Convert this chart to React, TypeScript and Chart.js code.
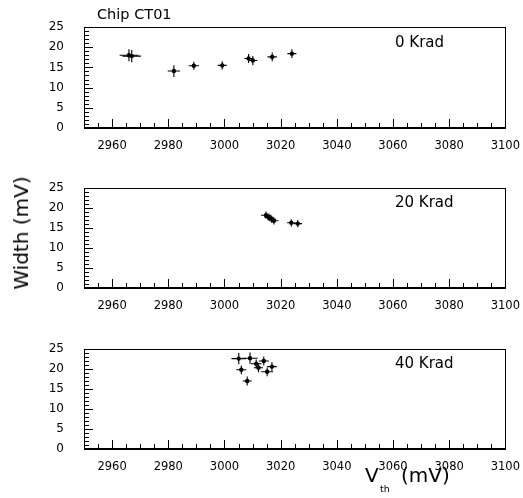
import { useEffect, useRef } from "react";
import { Chart, registerables } from "chart.js";

Chart.register(...registerables);

const FONT = "'DejaVu Sans', sans-serif";

// Axis ticks
const xTickValues = [2960, 2980, 3000, 3020, 3040, 3060, 3080, 3100];
const yTickValues = [0, 5, 10, 15, 20, 25];

// 0 Krad
const vth0 = [2966.0, 2967.0, 2982.0, 2989.1, 2999.2, 3008.6, 3010.1, 3017.0, 3024.0];
const width0 = [18.0, 17.8, 14.1, 15.4, 15.5, 17.2, 16.7, 17.6, 18.4];
const vthErr0 = [3.3, 3.3, 2.2, 1.8, 1.6, 1.5, 1.6, 1.65, 1.6];
const widthErr0 = [1.5, 1.5, 1.45, 1.0, 1.0, 1.1, 1.15, 1.1, 1.1];

// 20 Krad
const vth20 = [3014.8, 3015.8, 3016.8, 3017.6, 3023.8, 3026.1];
const width20 = [18.2, 17.7, 17.2, 16.8, 16.3, 16.1];
const vthErr20 = [1.8, 1.6, 1.6, 1.6, 1.5, 1.5];
const widthErr20 = [0.9, 0.9, 0.9, 0.9, 0.9, 0.9];

// 40 Krad
const vth40 = [3005.1, 3009.1, 3006.0, 3008.1, 3011.3, 3012.1, 3014.0, 3015.2, 3016.9];
const width40 = [22.6, 22.7, 19.8, 17.0, 21.3, 20.3, 22.0, 19.3, 20.6];
const vthErr40 = [2.6, 2.7, 1.8, 1.6, 1.9, 1.6, 1.8, 2.1, 1.7];
const widthErr40 = [1.4, 1.4, 1.1, 1.1, 1.1, 1.1, 1.1, 1.1, 1.1];

const panelLabels = ["0 Krad", "20 Krad", "40 Krad"];

type Pt = { x: number; y: number; xe: number; ye: number };

const makePoints = (xs: number[], ys: number[], xe: number[], ye: number[]): Pt[] =>
  xs.map((x, i) => ({ x, y: ys[i], xe: xe[i], ye: ye[i] }));

const panelData = [
  makePoints(vth0, width0, vthErr0, widthErr0),
  makePoints(vth20, width20, vthErr20, widthErr20),
  makePoints(vth40, width40, vthErr40, widthErr40),
];

const PAD_TOP = 27;
const layouts = [
  { canvasTop: 0, canvasH: 161, areaH: 101 },
  { canvasTop: 161, canvasH: 161, areaH: 100 },
  { canvasTop: 322, canvasH: 176, areaH: 100 },
];

function drawFrameAndTicks(chart: any) {
  const ctx = chart.ctx as CanvasRenderingContext2D;
  const area = chart.chartArea;
  const left = Math.round(area.left);
  const right = Math.round(area.right);
  const top = Math.round(area.top);
  const bottom = Math.round(area.bottom);
  const xs = chart.scales.x;
  const ys = chart.scales.y;
  ctx.save();
  ctx.fillStyle = "#000";
  // x ticks (inward, from the bottom axis)
  for (let v = 2950; v <= 3100; v += 5) {
    const px = Math.round(xs.getPixelForValue(v));
    const len = v % 20 === 0 ? 9 : 5;
    ctx.fillRect(px, bottom - len, 1, len);
  }
  // y ticks (inward, from the left axis)
  for (let v = 0; v <= 25; v += 1) {
    const py = Math.round(ys.getPixelForValue(v));
    const len = v % 5 === 0 ? 9 : 5;
    ctx.fillRect(left, py, len, 1);
  }
  // frame
  ctx.fillRect(left, top, right - left + 1, 1); // top
  ctx.fillRect(right, top, 1, bottom - top + 1); // right
  ctx.fillRect(left, top, 1, bottom - top + 1); // left
  ctx.fillRect(left, bottom - 1, right - left + 1, 2); // bottom (heavier)
  ctx.restore();
}

const framePlugin = {
  id: "rootFrame",
  beforeDatasetsDraw(chart: any) {
    const ctx = chart.ctx;
    const xs = chart.scales.x;
    const ys = chart.scales.y;
    const ds = chart.data.datasets[0];
    ctx.save();
    ctx.strokeStyle = "#000";
    ctx.lineWidth = 1.1;
    ds.data.forEach((p: Pt) => {
      const px = xs.getPixelForValue(p.x);
      const py = ys.getPixelForValue(p.y);
      const x1 = xs.getPixelForValue(p.x - p.xe);
      const x2 = xs.getPixelForValue(p.x + p.xe);
      const y1 = ys.getPixelForValue(p.y - p.ye);
      const y2 = ys.getPixelForValue(p.y + p.ye);
      ctx.beginPath();
      ctx.moveTo(x1, py);
      ctx.lineTo(x2, py);
      ctx.moveTo(px, y1);
      ctx.lineTo(px, y2);
      ctx.stroke();
    });
    ctx.restore();
  },
  afterDatasetsDraw(chart: any) {
    drawFrameAndTicks(chart);
  },
};

function Panel({ index }: { index: number }) {
  const ref = useRef<HTMLCanvasElement | null>(null);
  const lay = layouts[index];
  useEffect(() => {
    if (!ref.current) return;
    const chart = new Chart(ref.current, {
      type: "scatter",
      data: {
        datasets: [
          {
            data: panelData[index] as any,
            pointRadius: 2.2,
            pointHoverRadius: 2.2,
            pointBackgroundColor: "#000",
            pointBorderColor: "#000",
            pointBorderWidth: 0,
          },
        ],
      },
      options: {
        animation: false,
        responsive: false,
        maintainAspectRatio: false,
        events: [],
        layout: { padding: { top: PAD_TOP, right: 16, left: 0, bottom: 0 } },
        plugins: { legend: { display: false }, tooltip: { enabled: false }, title: { display: false } },
        scales: {
          x: {
            type: "linear",
            min: 2950,
            max: 3100,
            grid: { display: false },
            border: { display: false },
            afterBuildTicks: (s: any) => {
              s.ticks = xTickValues.map((v) => ({ value: v }));
            },
            afterFit: (s: any) => {
              s.height = lay.canvasH - PAD_TOP - lay.areaH;
            },
            ticks: {
              padding: 3,
              autoSkip: false,
              maxRotation: 0,
              color: "#000",
              font: { family: FONT, size: 11.5 },
              callback: (v: any) => String(v),
            },
          },
          y: {
            type: "linear",
            min: 0,
            max: 25,
            grid: { display: false },
            border: { display: false },
            afterBuildTicks: (s: any) => {
              s.ticks = yTickValues.map((v) => ({ value: v }));
            },
            afterFit: (s: any) => {
              s.width = 84;
            },
            ticks: {
              padding: 12,
              autoSkip: false,
              color: "#000",
              font: { family: FONT, size: 12 },
              callback: (v: any) => String(v),
            },
          },
        },
      } as any,
      plugins: [framePlugin],
    });
    return () => chart.destroy();
  }, [index]);
  return (
    <canvas
      ref={ref}
      width={523}
      height={lay.canvasH}
      style={{ position: "absolute", left: 0, top: lay.canvasTop, width: 523, height: lay.canvasH, display: "block" }}
    />
  );
}

const textStyle = (left: number, baseline: number, size: number): any => ({
  position: "absolute",
  left,
  top: baseline - 0.846 * size,
  fontSize: size,
  lineHeight: `${size}px`,
  whiteSpace: "nowrap",
  color: "#000",
  fontFamily: FONT,
});

export default function App() {
  const labelBaselines = [47.3, 207.7, 368.7];
  return (
    <div style={{ position: "absolute", left: 0, top: 0, width: 523, height: 498, background: "#fff", overflow: "hidden" }}>
      {[0, 1, 2].map((i) => (
        <Panel key={i} index={i} />
      ))}
      <div style={textStyle(97, 19, 14.5)}>Chip CT01</div>
      {panelLabels.map((t, i) => (
        <div key={t} style={textStyle(395, labelBaselines[i], 15)}>
          {t}
        </div>
      ))}
      <div
        style={{
          position: "absolute",
          left: 21,
          top: 232.5,
          transform: "translate(-50%, -50%) rotate(-90deg)",
          fontSize: 20,
          lineHeight: "20px",
          whiteSpace: "nowrap",
          fontFamily: FONT,
          color: "#000",
        }}
      >
        Width (mV)
      </div>
      <div style={textStyle(365, 482.3, 20)}>V</div>
      <div style={textStyle(380, 492, 9.5)}>th</div>
      <div style={textStyle(401, 482.3, 20)}>(mV)</div>
    </div>
  );
}
